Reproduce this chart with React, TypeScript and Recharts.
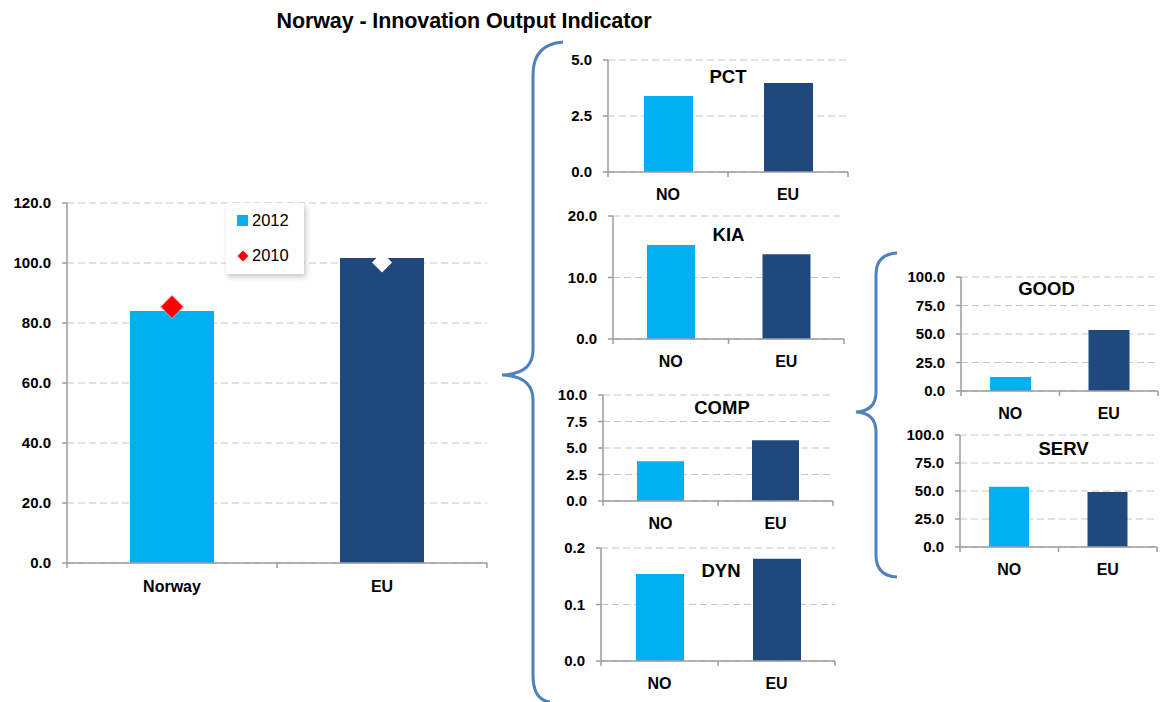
import React from 'react';
import { ComposedChart, BarChart, Bar, Line, XAxis, YAxis, CartesianGrid, Cell, Legend } from 'recharts';

// main indicator
const countries = ['Norway', 'EU'];
const output2012 = [84.0, 101.7];
const output2010 = [85.4, 100.2];
const mainTicks = [0, 20, 40, 60, 80, 100, 120];

// components
const shortCats = ['NO', 'EU'];
const pctValues = [3.39, 3.97];
const kiaValues = [15.3, 13.8];
const compValues = [3.76, 5.74];
const dynValues = [0.154, 0.181];
const goodValues = [12.3, 53.6];
const servValues = [53.7, 49.2];

const pctTicks = [0, 2.5, 5];
const kiaTicks = [0, 10, 20];
const compTicks = [0, 2.5, 5, 7.5, 10];
const dynTicks = [0, 0.1, 0.2];
const shareTicks = [0, 25, 50, 75, 100];

const LIGHT = '#00B0F0';
const DARK = '#1F497D';
const AXIS = '#9d9d9d';
const GRID = '#c6c6c6';
const FONT = '"Liberation Sans", Arial, sans-serif';
const barColors = [LIGHT, DARK];

const makeXTick = (axisY: number, half: number, last: number, fontSize: number, dy: number) => (props: any) => {
  const { x, payload, index } = props;
  return (
    <g>
      <line x1={x - half} x2={x - half} y1={axisY} y2={axisY + 5} stroke={AXIS} strokeWidth={1.5} />
      {index === last && <line x1={x + half} x2={x + half} y1={axisY} y2={axisY + 5} stroke={AXIS} strokeWidth={1.5} />}
      <text x={x} y={axisY + dy} textAnchor="middle" fontFamily={FONT} fontWeight="bold" fontSize={fontSize} fill="#000">
        {payload.value}
      </text>
    </g>
  );
};

const diamond = (cx: number, cy: number, r: number) => `M${cx},${cy - r} L${cx + r},${cy} L${cx},${cy + r} L${cx - r},${cy} Z`;

const MarkerDot = (props: any) => {
  const { cx, cy, index } = props;
  if (cx == null || cy == null) return <g />;
  if (index === 0) {
    return (
      <g>
        <path d={diamond(cx, cy, 12.5)} fill="#ff9a9a" opacity={0.5} />
        <path d={diamond(cx, cy, 11)} fill="#FF0000" />
      </g>
    );
  }
  return <path d={diamond(cx, cy, 10)} fill="#ffffff" />;
};

const MainLegend = () => (
  <div
    style={{
      background: '#fff',
      boxShadow: '2px 3px 5px rgba(0,0,0,0.22)',
      width: 78,
      height: 71,
      fontFamily: FONT,
      fontSize: 16.5,
      position: 'relative',
    }}
  >
    <div style={{ position: 'absolute', left: 11, top: 12, width: 11, height: 11, background: LIGHT }} />
    <div style={{ position: 'absolute', left: 26, top: 8 }}>2012</div>
    <svg style={{ position: 'absolute', left: 11, top: 47 }} width={12} height={12}>
      <path d={diamond(6, 6, 5.5)} fill="#FF0000" />
    </svg>
    <div style={{ position: 'absolute', left: 26, top: 43 }}>2010</div>
  </div>
);

type SmallProps = {
  title: string;
  values: number[];
  ticks: number[];
  left: number;
  top: number;
  plotW: number;
  plotH: number;
  barSize: number;
  titleDx: number;
  titleDy: number;
};

const SmallChart = ({ title, values, ticks, left, top, plotW, plotH, barSize, titleDx, titleDy }: SmallProps) => {
  const data = shortCats.map((c, i) => ({ cat: c, value: values[i] }));
  const yW = 70;
  const mt = 10;
  const w = yW + plotW + 2;
  const h = mt + plotH + 32;
  return (
    <div style={{ position: 'absolute', left: left - yW, top: top - mt, width: w, height: h }}>
      <BarChart width={w} height={h} data={data} margin={{ top: mt, right: 2, left: 0, bottom: 0 }}>
        <CartesianGrid vertical={false} stroke={GRID} strokeDasharray="7 4" strokeWidth={1.2} />
        <XAxis
          dataKey="cat"
          height={32}
          interval={0}
          axisLine={{ stroke: AXIS, strokeWidth: 1.5 }}
          tickLine={false}
          tick={makeXTick(mt + plotH, plotW / 4, 1, 16, 28)}
        />
        <YAxis
          width={yW}
          domain={[0, ticks[ticks.length - 1]]}
          ticks={ticks}
          interval={0}
          tickSize={5}
          tickMargin={11}
          axisLine={{ stroke: AXIS, strokeWidth: 1.5 }}
          tickLine={{ stroke: AXIS, strokeWidth: 1.5 }}
          tickFormatter={(v: number) => v.toFixed(1)}
          tick={{ fontFamily: FONT, fontWeight: 'bold', fontSize: 15, fill: '#000' }}
        />
        <Bar dataKey="value" barSize={barSize} isAnimationActive={false}>
          {data.map((d, i) => (
            <Cell key={d.cat} fill={barColors[i]} />
          ))}
        </Bar>
      </BarChart>
      <div
        style={{
          position: 'absolute',
          left: yW + plotW / 2 + titleDx - 60,
          width: 120,
          top: mt + titleDy - 11,
          textAlign: 'center',
          fontFamily: FONT,
          fontWeight: 'bold',
          fontSize: 18.5,
          lineHeight: '22px',
        }}
      >
        {title}
      </div>
    </div>
  );
};

export default function App() {
  const mainData = countries.map((c, i) => ({ name: c, v2012: output2012[i], v2010: output2010[i] }));
  return (
    <div style={{ position: 'absolute', left: 0, top: 0, width: 1160, height: 702, background: '#fff', overflow: 'hidden' }}>
      <div
        style={{
          position: 'absolute',
          left: 214,
          width: 500,
          top: 8,
          textAlign: 'center',
          fontFamily: FONT,
          fontWeight: 'bold',
          fontSize: 21.5,
          lineHeight: '26px',
          letterSpacing: -0.1,
        }}
      >
        Norway - Innovation Output Indicator
      </div>

      <div style={{ position: 'absolute', left: 0, top: 190 }}>
        <ComposedChart width={500} height={420} data={mainData} margin={{ top: 13, right: 13, left: 0, bottom: 17 }}>
          <CartesianGrid vertical={false} stroke={GRID} strokeDasharray="7 4" strokeWidth={1.2} />
          <XAxis
            dataKey="name"
            height={30}
            interval={0}
            axisLine={{ stroke: AXIS, strokeWidth: 1.5 }}
            tickLine={false}
            tick={makeXTick(373, 105, 1, 16, 29)}
          />
          <YAxis
            width={67}
            domain={[0, 120]}
            ticks={mainTicks}
            interval={0}
            tickSize={5}
            tickMargin={11}
            axisLine={{ stroke: AXIS, strokeWidth: 1.5 }}
            tickLine={{ stroke: AXIS, strokeWidth: 1.5 }}
            tickFormatter={(v: number) => v.toFixed(1)}
            tick={{ fontFamily: FONT, fontWeight: 'bold', fontSize: 15, fill: '#000' }}
          />
          <Legend
            layout="vertical"
            align="center"
            verticalAlign="middle"
            wrapperStyle={{ left: 226, top: 13, width: 78, height: 71 }}
            content={() => <MainLegend />}
          />
          <Bar dataKey="v2012" name="2012" barSize={84} isAnimationActive={false}>
            {mainData.map((d, i) => (
              <Cell key={d.name} fill={barColors[i]} />
            ))}
          </Bar>
          <Line dataKey="v2010" name="2010" stroke="none" dot={<MarkerDot />} activeDot={false} isAnimationActive={false} />
        </ComposedChart>
      </div>

      <SmallChart title="PCT" values={pctValues} ticks={pctTicks} left={608} top={60} plotW={240} plotH={112} barSize={49} titleDx={0} titleDy={17} />
      <SmallChart title="KIA" values={kiaValues} ticks={kiaTicks} left={613} top={216} plotW={231} plotH={123} barSize={48} titleDx={0} titleDy={19} />
      <SmallChart title="COMP" values={compValues} ticks={compTicks} left={603} top={395} plotW={230} plotH={106} barSize={47} titleDx={4} titleDy={13} />
      <SmallChart title="DYN" values={dynValues} ticks={dynTicks} left={601} top={548} plotW={234} plotH={113} barSize={48} titleDx={3} titleDy={23} />
      <SmallChart title="GOOD" values={goodValues} ticks={shareTicks} left={961} top={277} plotW={197} plotH={114} barSize={41} titleDx={-13} titleDy={12} />
      <SmallChart title="SERV" values={servValues} ticks={shareTicks} left={960} top={435} plotW={197} plotH={112} barSize={40} titleDx={5} titleDy={14} />

      <svg style={{ position: 'absolute', left: 0, top: 0, pointerEvents: 'none' }} width={1160} height={702}>
        <path
          d="M563,42 Q533,44 533,75 L533,350 Q533,374 502,375 Q533,376 533,400 L533,675 Q533,700 550,702"
          fill="none"
          stroke="#4F81BD"
          strokeWidth={3}
        />
        <path
          d="M897,253 Q876,254 876,275 L876,392 Q876,411 856,412 Q876,413 876,432 L876,555 Q876,576 897,577"
          fill="none"
          stroke="#4F81BD"
          strokeWidth={3}
        />
      </svg>
    </div>
  );
}
